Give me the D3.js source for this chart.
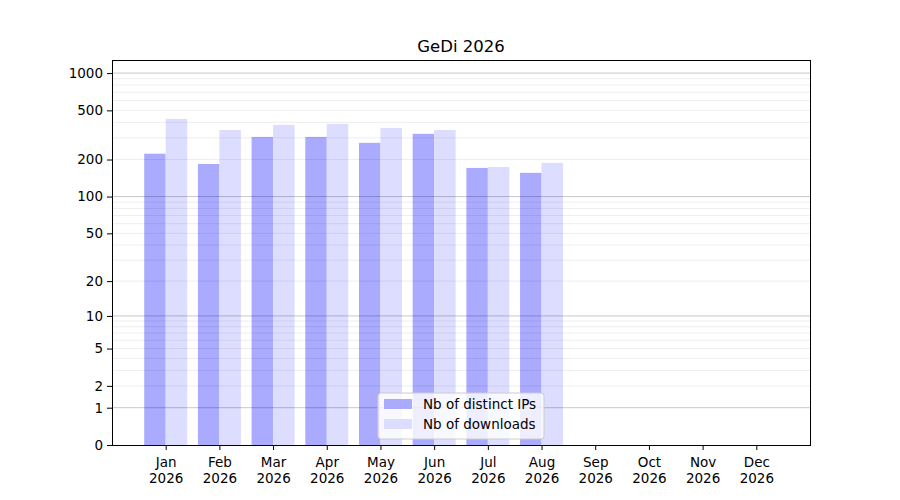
<!DOCTYPE html>
<html>
<head>
<meta charset="utf-8">
<script src="https://cdn.jsdelivr.net/npm/d3@7"></script>
<style>
  body { margin: 0; background: #fff; }
  svg { font-family: "DejaVu Sans", sans-serif; }
</style>
</head>
<body>
<main></main>
<script>
const months = ['Jan', 'Feb', 'Mar', 'Apr', 'May', 'Jun', 'Jul', 'Aug', 'Sep', 'Oct', 'Nov', 'Dec'];
const year = '2026';
const distinctIps = [223, 184, 305, 305, 273, 323, 171, 156];
const downloads = [427, 347, 382, 389, 361, 347, 174, 188];
const yTicks = [0, 1, 2, 5, 10, 20, 50, 100, 200, 500, 1000];
const majorGrid = [1, 10, 100, 1000];
const minorGrid = [2, 3, 4, 5, 6, 7, 8, 9, 20, 30, 40, 50, 60, 70, 80, 90, 200, 300, 400, 500, 600, 700, 800, 900];
const seriesNames = ['Nb of distinct IPs', 'Nb of downloads'];
const seriesColors = ['#aaaaff', '#ddddff'];

const w = 900, h = 500;
const m = { left: 112, right: 90, top: 60, bottom: 55 };
const svg = d3.select('main').append('svg').attr('width', w).attr('height', h);

const x = d3.scaleLinear().domain([-1, 12]).range([m.left, w - m.right]);
const y = d3.scaleSymlog().constant(1).domain([0, 1276]).range([h - m.bottom, m.top]);
const bw = x(0.4) - x(0);

const plot = svg.append('g');
plot.selectAll('.ip')
    .data(distinctIps)
    .enter()
    .append('rect')
    .attr('x', (d, i) => x(i - 0.4))
    .attr('width', bw)
    .attr('y', d => y(d))
    .attr('height', d => y(0) - y(d))
    .attr('fill', seriesColors[0]);
plot.selectAll('.dl')
    .data(downloads)
    .enter()
    .append('rect')
    .attr('x', (d, i) => x(i))
    .attr('width', bw)
    .attr('y', d => y(d))
    .attr('height', d => y(0) - y(d))
    .attr('fill', seriesColors[1]);

// grid on top of the bars, like the original
svg.append('g').selectAll('line')
    .data(minorGrid)
    .enter()
    .append('line')
    .attr('x1', m.left).attr('x2', w - m.right)
    .attr('y1', d => y(d)).attr('y2', d => y(d))
    .attr('stroke', '#000').attr('stroke-opacity', 0.07).attr('stroke-width', 1);
svg.append('g').selectAll('line')
    .data(majorGrid)
    .enter()
    .append('line')
    .attr('x1', m.left).attr('x2', w - m.right)
    .attr('y1', d => y(d)).attr('y2', d => y(d))
    .attr('stroke', '#000').attr('stroke-opacity', 0.22).attr('stroke-width', 1);

const yAxis = svg.append('g')
    .attr('transform', `translate(${m.left},0)`)
    .call(d3.axisLeft(y).tickValues(yTicks).tickFormat(d3.format('d')).tickSize(5).tickPadding(4));
const xAxis = svg.append('g')
    .attr('transform', `translate(0,${h - m.bottom})`)
    .call(d3.axisBottom(x).tickValues(d3.range(12)).tickFormat('').tickSize(5));
[yAxis, xAxis].forEach(a => {
    a.attr('font-family', 'DejaVu Sans');
    a.select('.domain').remove();
    a.selectAll('text').attr('font-size', 13.5).attr('fill', '#000');
    a.selectAll('line').attr('stroke', '#000');
});
xAxis.selectAll('.tick').append('text')
    .attr('fill', '#000').attr('font-size', 13.5).attr('text-anchor', 'middle')
    .selectAll('tspan')
    .data(d => [months[d], year])
    .enter()
    .append('tspan')
    .attr('x', 0)
    .attr('y', (d, i) => 22 + 15.5 * i)
    .text(d => d);

svg.append('rect')
    .attr('x', m.left + 0.5).attr('y', m.top + 0.5)
    .attr('width', w - m.right - m.left).attr('height', h - m.bottom - m.top)
    .attr('fill', 'none').attr('stroke', '#000').attr('stroke-width', 1);

svg.append('text')
    .attr('x', (m.left + w - m.right) / 2).attr('y', 52)
    .attr('text-anchor', 'middle').attr('font-size', 16.5)
    .text('GeDi 2026');

const legend = svg.append('g').attr('transform', 'translate(378,393)');
legend.append('rect')
    .attr('width', 166).attr('height', 46).attr('rx', 3)
    .attr('fill', '#fff').attr('fill-opacity', 0.8)
    .attr('stroke', '#ccc').attr('stroke-width', 1);
const li = legend.selectAll('g.item')
    .data(seriesNames)
    .enter()
    .append('g')
    .attr('transform', (d, i) => `translate(6,${6 + i * 20})`);
li.append('rect')
    .attr('width', 28).attr('height', 10)
    .attr('fill', (d, i) => seriesColors[i]);
li.append('text')
    .attr('x', 39).attr('y', 10)
    .attr('font-size', 13.5)
    .text(d => d);
</script>
</body>
</html>
